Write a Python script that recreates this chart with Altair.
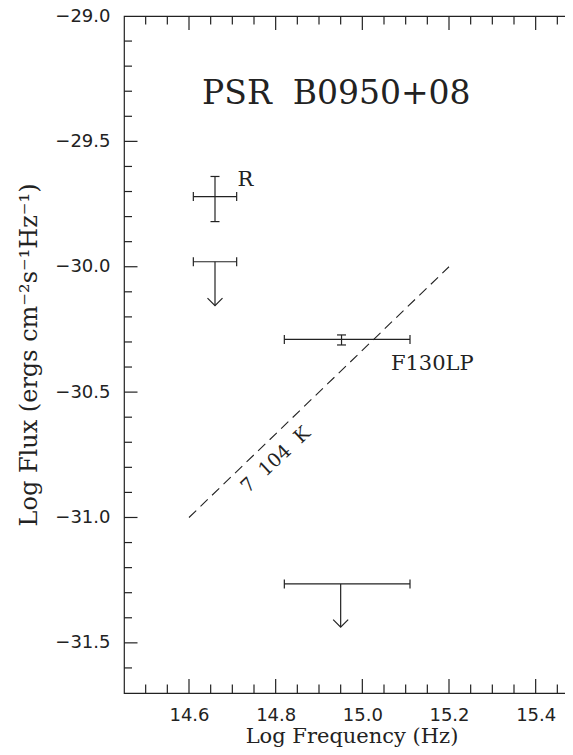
import altair as alt
import pandas as pd

INK = "#222222"
NB = "\u00a0"

# ---- axes ----
X_DOMAIN = [14.45, 15.5]
Y_DOMAIN = [-31.7, -29.0]
x_tick_labels = [14.6, 14.8, 15.0, 15.2, 15.4]
y_tick_labels = [-29.0, -29.5, -30.0, -30.5, -31.0, -31.5]

# ---- detections with error bars ----
det_band = ["R", "F130LP"]
det_x = [14.66, 14.952]
det_x_lo = [14.61, 14.82]
det_x_hi = [14.71, 15.11]
det_y = [-29.72, -30.29]
det_y_lo = [-29.82, -30.312]
det_y_hi = [-29.64, -30.272]

# ---- upper limits ----
lim_x = [14.66, 14.95]
lim_x_lo = [14.61, 14.82]
lim_x_hi = [14.71, 15.11]
lim_y = [-29.98, -31.265]
lim_tip = [-30.155, -31.437]

# ---- 7x10^4 K line ----
bb_x = [14.6, 15.2]
bb_y = [-31.0, -30.0]

# ---- annotations ----
title_text = ["PSR" + NB * 2 + "B0950+08"]
title_x = [14.94]
title_y = [-29.35]
band_text = ["R", "F130LP"]
band_x = [14.712, 15.066]
band_y = [-29.676, -30.412]
bb_text = ["7" + NB * 2 + "104" + NB * 2 + "K"]
bb_tx = [14.80]
bb_ty = [-30.77]

# ---- frame ticks ----
x_major = x_tick_labels
x_minor = [round(14.45 + 0.05 * i, 2) for i in range(1, 21)]
x_minor = [v for v in x_minor if all(abs(v - m) > 1e-6 for m in x_major)]
y_major = y_tick_labels
y_minor = [round(-29.0 - 0.1 * i, 1) for i in range(1, 27)]
y_minor = [v for v in y_minor if all(abs(v - m) > 1e-6 for m in y_major)]

xs = alt.Scale(domain=X_DOMAIN, nice=False, zero=False)
ys = alt.Scale(domain=Y_DOMAIN, nice=False, zero=False)

x_axis = alt.Axis(values=x_tick_labels, format=".1f", ticks=False, domain=False, grid=False,
                  title="Log Frequency (Hz)", labelPadding=13, titleFontSize=21,
                  titleBaseline="alphabetic", titleY=49)
y_axis = alt.Axis(values=y_tick_labels, format=".1f", ticks=False, domain=False, grid=False,
                  title="Log Flux (ergs cm⁻²s⁻¹Hz⁻¹)", labelPadding=14, titlePadding=13,
                  titleFontSize=24)


def X(f):
    return alt.X(f, type="quantitative", scale=xs, axis=x_axis)


def Y(f):
    return alt.Y(f, type="quantitative", scale=ys, axis=y_axis)


det = pd.DataFrame({"band": det_band, "x": det_x, "xlo": det_x_lo, "xhi": det_x_hi,
                    "y": det_y, "ylo": det_y_lo, "yhi": det_y_hi})
lim = pd.DataFrame({"x": lim_x, "xlo": lim_x_lo, "xhi": lim_x_hi, "y": lim_y, "tip": lim_tip})
hb = pd.concat([det[["xlo", "xhi", "y"]], lim[["xlo", "xhi", "y"]]], ignore_index=True)
hcaps = pd.DataFrame({"x": list(hb["xlo"]) + list(hb["xhi"]), "y": list(hb["y"]) * 2})
vcaps = pd.DataFrame({"x": det_x * 2, "y": det_y_lo + det_y_hi})
bb = pd.DataFrame({"x": bb_x, "y": bb_y})

rule_kw = dict(color=INK, strokeWidth=1.2)

hbars = alt.Chart(hb).mark_rule(**rule_kw).encode(x=X("xlo"), x2="xhi", y=Y("y"))
vbars = alt.Chart(det).mark_rule(**rule_kw).encode(x=X("x"), y=Y("ylo"), y2="yhi")
stems = alt.Chart(lim).mark_rule(**rule_kw).encode(x=X("x"), y=Y("y"), y2="tip")
heads = alt.Chart(lim).mark_point(shape="M-1,-1L0,0L1,-1", filled=False, size=225,
                                  stroke=INK, strokeWidth=1.2, opacity=1).encode(x=X("x"), y=Y("tip"))
hcap = alt.Chart(hcaps).mark_point(shape="M0,-1L0,1", filled=False, size=81,
                                   stroke=INK, strokeWidth=1.2, opacity=1).encode(x=X("x"), y=Y("y"))
vcap = alt.Chart(vcaps).mark_point(shape="M-1,0L1,0", filled=False, size=81,
                                   stroke=INK, strokeWidth=1.2, opacity=1).encode(x=X("x"), y=Y("y"))
line = alt.Chart(bb).mark_line(color=INK, strokeWidth=1.1, strokeDash=[10, 6]).encode(x=X("x"), y=Y("y"))

t_title = alt.Chart(pd.DataFrame({"t": title_text, "x": title_x, "y": title_y})).mark_text(
    font="DejaVu Serif", fontSize=33, align="center", baseline="alphabetic", color=INK
).encode(x=X("x"), y=Y("y"), text="t:N")
t_band = alt.Chart(pd.DataFrame({"t": band_text, "x": band_x, "y": band_y})).mark_text(
    font="DejaVu Serif", fontSize=21, align="left", baseline="alphabetic", color=INK
).encode(x=X("x"), y=Y("y"), text="t:N")
t_bb = alt.Chart(pd.DataFrame({"t": bb_text, "x": bb_tx, "y": bb_ty})).mark_text(
    font="DejaVu Serif", fontSize=19, align="center", baseline="middle", angle=317, color=INK
).encode(x=X("x"), y=Y("y"), text="t:N")

xt_major = pd.DataFrame([{"v": v, "e": e} for v in x_major for e in Y_DOMAIN])
xt_minor = pd.DataFrame([{"v": v, "e": e} for v in x_minor for e in Y_DOMAIN])
yt_major = pd.DataFrame([{"v": v, "e": e} for v in y_major for e in X_DOMAIN])
yt_minor = pd.DataFrame([{"v": v, "e": e} for v in y_minor for e in X_DOMAIN])

tick_kw = dict(thickness=1.2, clip=True, color=INK, opacity=1)
xtm = alt.Chart(xt_major).mark_tick(orient="vertical", size=28, **tick_kw).encode(x=X("v"), y=Y("e"))
xtn = alt.Chart(xt_minor).mark_tick(orient="vertical", size=17, **tick_kw).encode(x=X("v"), y=Y("e"))
ytm = alt.Chart(yt_major).mark_tick(orient="horizontal", size=27, **tick_kw).encode(x=X("e"), y=Y("v"))
ytn = alt.Chart(yt_minor).mark_tick(orient="horizontal", size=16, **tick_kw).encode(x=X("e"), y=Y("v"))

chart = alt.layer(
    xtm, xtn, ytm, ytn, line, hbars, vbars, stems, heads, hcap, vcap, t_title, t_band, t_bb
).properties(
    width=455, height=677,
    autosize=alt.AutoSizeParams(type="none"),
    padding={"left": 116, "top": 8, "right": -14, "bottom": 54},
    background="white",
).configure_view(
    stroke=INK, strokeWidth=1.2
).configure_axis(
    labelFont="DejaVu Sans", labelFontSize=18, labelColor=INK,
    titleFont="DejaVu Serif", titleFontWeight="normal", titleColor=INK,
)

chart.save("out.html", embed_options={"renderer": "svg", "actions": False})
